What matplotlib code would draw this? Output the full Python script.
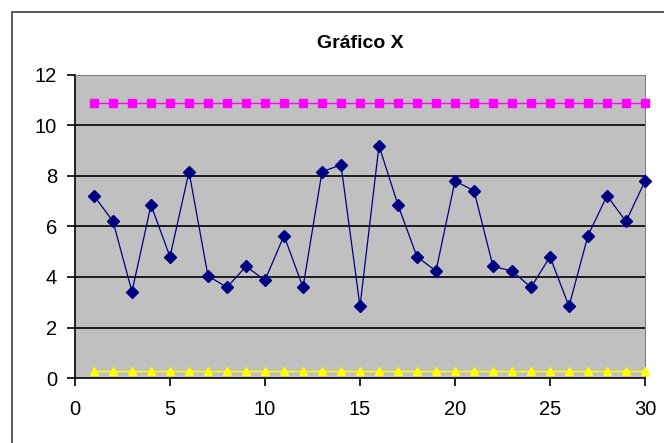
import numpy as np
import matplotlib.pyplot as plt
from matplotlib.patches import Rectangle

plt.rcParams['font.family'] = ['Liberation Sans', 'DejaVu Sans']

# data
muestra = list(range(1, 31))
valores = [7.22, 6.2, 3.42, 6.85, 4.8, 8.17, 4.04, 3.59, 4.42, 3.87,
           5.64, 3.59, 8.17, 8.44, 2.84, 9.2, 6.85, 4.8, 4.24, 7.8,
           7.42, 4.42, 4.24, 3.59, 4.8, 2.84, 5.64, 7.22, 6.2, 7.8]
lcs = [10.9] * 30
lci = [0.28] * 30

fig = plt.figure(figsize=(6.64, 4.43), dpi=100)
fig.patch.set_facecolor('white')
# outer chart border
fig.patches.append(Rectangle((12/664, -0.05), 1.0, 1 - 12/443 + 0.05,
                             transform=fig.transFigure, fill=False,
                             edgecolor='#404040', lw=1.2))

ax = fig.add_axes([75/664, 1 - 378/443, 570/664, 303/443])
ax.set_facecolor('#C0C0C0')

for y in [2, 4, 6, 8, 10]:
    ax.axhline(y, color='black', lw=1.2, zorder=1)

ax.plot(muestra, lcs, color='#FF00FF', lw=1, marker='s', markersize=6,
        zorder=3, clip_on=False)
ax.plot(muestra, lci, color='#FFFF00', lw=1, marker='^', markersize=6,
        zorder=3, clip_on=False)
ax.plot(muestra, valores, color='#000080', lw=0.9, marker='D', markersize=6,
        zorder=4, clip_on=False)

ax.set_xlim(0, 30)
ax.set_ylim(0, 12)
ax.set_xticks(range(0, 31, 5))
ax.set_yticks(range(0, 13, 2))
ax.tick_params(labelsize=14.5, length=6, width=1.2, direction='out')
ax.tick_params(axis='x', pad=10)
ax.tick_params(axis='y', pad=7)

for s in ['top', 'right']:
    ax.spines[s].set_color('#808080')
for s in ['left', 'bottom']:
    ax.spines[s].set_color('black')
    ax.spines[s].set_linewidth(1.2)

fig.text(360/664, 1 - 43/443, 'Gráfico X', ha='center', va='center',
         fontsize=14, fontweight='bold')

fig.savefig('out.png', dpi=100)
